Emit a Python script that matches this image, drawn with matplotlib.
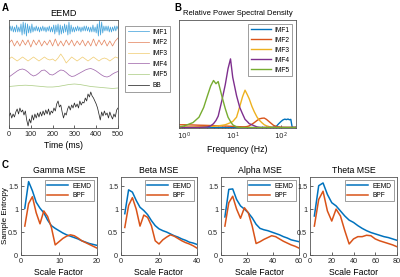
import numpy as np
import matplotlib
matplotlib.use("Agg")
import matplotlib.pyplot as plt

plt.rcParams['font.family'] = ['Liberation Sans', 'DejaVu Sans']

# ---------------- Panel A data (EEMD decomposition, arbitrary units) -------------
imf1 = [0, 3, -2, 3, -3, 2, -3, 4, -3, 2,
        -3, 5, -6, 7, -5, 6, -7, 5, -4, 3,
        -4, 5, -3, 2, -2, 3, -2, 2, -3, 2,
        -2, 3, -2, 2, -3, 2, -2, 3, -3, 2,
        -3, 4, -5, 4, -3, 5, -6, 4, -5, 3,
        -4, 5, -3, 4, -6, 7, -5, 4, -3, 2,
        -3, 2, -2, 3, -2, 2, -3, 2, -2, 3,
        -2, 3, -2, 2, -3, 2, -3, 4, -3, 2,
        -4, 5, -7, 8, -6, 7, -4, 3, -2, 3,
        -2, 3, -3, 2, -3, 2, -2, 3, -2, 3, 0]
imf2 = [0, 3, -3, 2, -3, 3, -2, 3, -4, 3,
        -2, 3, -3, 2, -2, 3, -3, 4, -3, 2,
        -3, 3, -2, 3, -3, 2, -2, 3, -3, 2,
        -3, 4, -3, 3, -2, 3, -3, 2, -3, 2, 5]
imf3 = [0, 2, 0, -2, 0, 2, 0, -2, 0, 2,
        0, -2, 0, 2, 0, -1, 0, -2, 1, 5,
        1, -4, -1, 2, 0, -2, 0, 2, 0, -2,
        0, 2, 0, -2, 0, 1, 0, -2, 0, 2, 1]
imf4 = [-4, -2, 0, 2, 3.5, 4, 3, 1, -1.5, -3,
        -2, 0, 2.5, 3, 1, -1.5, -2, -0.5, 1.5, 3,
        2.5, 0.5, -2, -3.5, -3, -1.5, 0, 1.5, 3, 4,
        4.5, 3.5, 2, 0, -2, -3.5, -4, -3, -1, 0.5, 1.5]
imf5 = [-0.5, 0, 0.5, 0.8, 0.5, 0, -0.5, -1, -1, -0.5,
        0.5, 1.5, 2, 1.5, 0.5, -0.5, -1, -1.5, -2, -2.5, -2]
bb = [12, 15, 10, 14, 11, 16, 19, 14, 20, 16,
      18, 13, 17, 8, 2, 9, 5, 13, 8, 14,
      10, 15, 11, 16, 12, 17, 13, 18, 14, 19,
      13, 17, 15, 20, 17, 24, 27, 21, 23, 16,
      10, 15, 13, 19, 22, 18, 23, 20, 25, 21,
      24, 20, 27, 23, 26, 25, 30, 27, 34, 31,
      36, 32, 30, 27, 24, 20, 14, 8, 16, 12,
      17, 13, 15, 10, 16, 12, 9, 14, 11, 18, 20]
a_series = [imf1, imf2, imf3, imf4, imf5, bb]
a_labels = ['IMF1', 'IMF2', 'IMF3', 'IMF4', 'IMF5', 'BB']
a_offsets = [99, 85, 69, 55, 42, 0]
t_end = 500

# ---------------- Panel B data (relative PSD) ------------------------------------
freqs = [0.8, 1, 1.5, 2, 2.5, 3, 3.5, 4, 4.5, 5, 6, 7, 8, 9, 10, 12, 14, 16, 18, 20,
         22, 25, 28, 32, 36, 40, 45, 50, 60, 70, 80, 90, 100, 110, 120, 130, 140, 150,
         160, 170, 180, 200]
psd_imf1 = [0.004, 0.004, 0.004, 0.004, 0.004, 0.004, 0.004, 0.004, 0.004, 0.004,
            0.004, 0.004, 0.004, 0.004, 0.004, 0.004, 0.004, 0.004, 0.004, 0.004,
            0.004, 0.004, 0.004, 0.004, 0.004, 0.004, 0.004, 0.004, 0.004, 0.006,
            0.015, 0.04, 0.06, 0.075, 0.082, 0.078, 0.083, 0.076, 0.08, 0.012, 0.005, 0.005]
psd_imf2 = [0.03, 0.03, 0.028, 0.026, 0.025, 0.024, 0.023, 0.022, 0.021, 0.02,
            0.019, 0.018, 0.017, 0.016, 0.015, 0.013, 0.012, 0.011, 0.011, 0.014,
            0.02, 0.035, 0.05, 0.07, 0.085, 0.09, 0.092, 0.08, 0.05, 0.025,
            0.015, 0.01, 0.007, 0.006, 0.005, 0.005, 0.005, 0.005, 0.005, 0.005, 0.005, 0.005]
psd_imf3 = [0.01, 0.01, 0.01, 0.012, 0.013, 0.014, 0.015, 0.016, 0.018, 0.02,
            0.025, 0.03, 0.04, 0.05, 0.06, 0.1, 0.2, 0.29, 0.35, 0.31,
            0.27, 0.2, 0.15, 0.1, 0.07, 0.05, 0.03, 0.02, 0.01, 0.006,
            0.005, 0.005, 0.005, 0.005, 0.005, 0.005, 0.005, 0.005, 0.005, 0.005, 0.005, 0.005]
psd_imf4 = [0.005, 0.005, 0.005, 0.006, 0.008, 0.01, 0.02, 0.04, 0.07, 0.11,
            0.26, 0.4, 0.55, 0.64, 0.47, 0.3, 0.19, 0.13, 0.08, 0.06,
            0.04, 0.03, 0.02, 0.01, 0.006, 0.005, 0.005, 0.005, 0.005, 0.005,
            0.005, 0.005, 0.005, 0.005, 0.005, 0.005, 0.005, 0.005, 0.005, 0.005, 0.005, 0.005]
psd_imf5 = [0.01, 0.02, 0.05, 0.1, 0.19, 0.3, 0.39, 0.44, 0.41, 0.43,
            0.29, 0.18, 0.1, 0.06, 0.03, 0.01, 0.005, 0.004, 0.004, 0.004,
            0.004, 0.004, 0.004, 0.004, 0.004, 0.004, 0.004, 0.004, 0.004, 0.004,
            0.004, 0.004, 0.004, 0.004, 0.004, 0.004, 0.004, 0.004, 0.004, 0.004, 0.004, 0.004]
psd_series = [psd_imf1, psd_imf2, psd_imf3, psd_imf4, psd_imf5]
psd_labels = ['IMF1', 'IMF2', 'IMF3', 'IMF4', 'IMF5']

# ---------------- Panel C data (multiscale entropy) -------------------------------
mse_titles = ['Gamma MSE', 'Beta MSE', 'Alpha MSE', 'Theta MSE']
mse_step = [1, 2, 3, 4]
gamma_eemd = [1.02, 1.6, 1.4, 1.15, 1.02, 0.92, 0.76, 0.64, 0.58, 0.53,
              0.48, 0.44, 0.41, 0.38, 0.35, 0.31, 0.28, 0.25, 0.23, 0.21]
gamma_bpf = [0.63, 1.12, 1.27, 0.92, 0.68, 0.96, 0.84, 0.6, 0.22, 0.29,
             0.36, 0.41, 0.44, 0.42, 0.37, 0.31, 0.27, 0.23, 0.19, 0.15]
beta_eemd = [0.9, 1.42, 1.37, 1.19, 1.04, 0.97, 0.88, 0.75, 0.64, 0.57,
             0.53, 0.5, 0.46, 0.42, 0.39, 0.35, 0.32, 0.28, 0.26, 0.23]
beta_bpf = [0.6, 1.08, 1.25, 1.0, 0.63, 0.87, 0.82, 0.64, 0.31, 0.24,
            0.33, 0.39, 0.44, 0.41, 0.36, 0.31, 0.27, 0.24, 0.2, 0.15]
alpha_eemd = [0.83, 1.43, 1.44, 1.21, 1.07, 1.0, 0.92, 0.81, 0.67, 0.58,
              0.55, 0.53, 0.5, 0.47, 0.44, 0.4, 0.37, 0.33, 0.31, 0.29]
alpha_bpf = [0.63, 1.14, 1.28, 1.0, 0.8, 1.03, 0.92, 0.63, 0.25, 0.29,
             0.34, 0.38, 0.42, 0.4, 0.35, 0.3, 0.26, 0.22, 0.19, 0.15]
theta_eemd = [0.85, 1.51, 1.57, 1.32, 1.14, 1.07, 0.96, 0.85, 0.76, 0.71,
              0.64, 0.58, 0.53, 0.49, 0.46, 0.43, 0.4, 0.38, 0.35, 0.32]
theta_bpf = [0.63, 1.21, 1.39, 0.96, 0.74, 1.0, 0.85, 0.53, 0.24, 0.35,
             0.4, 0.4, 0.43, 0.42, 0.35, 0.31, 0.28, 0.25, 0.22, 0.18]
mse_eemd = [gamma_eemd, beta_eemd, alpha_eemd, theta_eemd]
mse_bpf = [gamma_bpf, beta_bpf, alpha_bpf, theta_bpf]
mse_xticks = [[0, 10, 20], [0, 20, 40], [0, 20, 40, 60], [0, 20, 40, 60, 80]]
mse_xlim = [20, 40, 60, 80]
mse_yticks = [0, 0.5, 1, 1.5]
mse_yticklabels = ['0', '0.5', '1', '1.5']

# ---------------- styles --------------------------------------------------------
W, H = 400, 277
fig = plt.figure(figsize=(W / 100, H / 100), dpi=100)

def fx(px):
    return px / W

def fy(py):
    return 1 - py / H

a_colors = ['#4aa6dc', '#e58a66', '#f1cf7a', '#a36cae', '#b0cf8a', '#2a2a2a']
m_colors = ['#0072BD', '#D95319', '#EDB120', '#7E2F8E', '#77AC30']
edge = '#555555'
tick_fs = 5.2
lab_fs = 6.3

def style_axes(ax):
    for s in ax.spines.values():
        s.set_color(edge)
        s.set_linewidth(0.6)
    ax.tick_params(direction='in', length=2, width=0.5, colors='#262626',
                   labelsize=tick_fs, pad=2)

# ---- Panel A
axA = fig.add_axes([fx(9), fy(128), fx(109), 108 / H])
style_axes(axA)
handles = []
for ser, lab, off, col in zip(a_series, a_labels, a_offsets, a_colors):
    t = np.linspace(0, t_end, len(ser))
    h, = axA.plot(t, np.asarray(ser) + off, color=col, lw=0.55)
    handles.append(h)
axA.set_xlim(0, t_end)
axA.set_ylim(0, 108)
axA.set_yticks([])
axA.set_xticks([0, 100, 200, 300, 400, 500])
axA.set_xlabel('Time (ms)', fontsize=lab_fs, labelpad=2)
axA.set_title('EEMD', fontsize=lab_fs + 0.3, pad=3)
legA = fig.legend(handles, a_labels, loc='upper left',
                  bbox_to_anchor=(fx(125), fy(26)), fontsize=4.8, frameon=True,
                  fancybox=False, edgecolor=edge, handlelength=3.2,
                  borderpad=0.4, labelspacing=0.55, handletextpad=0.5,
                  borderaxespad=0)
legA.get_frame().set_linewidth(0.5)

# ---- Panel B
axB = fig.add_axes([fx(179), fy(128), fx(117), 108 / H])
style_axes(axB)
hb = []
for ser, lab, col in zip(psd_series, psd_labels, m_colors):
    h, = axB.plot(freqs, ser, color=col, lw=1.0, label=lab)
    hb.append(h)
axB.set_xscale('log')
axB.set_xlim(0.77, 205)
axB.set_ylim(0, 1)
axB.set_yticks([])
axB.set_xticks([1, 10, 100])
axB.set_xticklabels([r'$10^0$', r'$10^1$', r'$10^2$'])
axB.tick_params(which='minor', direction='in', length=1.2, width=0.4, colors='#262626')
axB.set_xlabel('Frequency (Hz)', fontsize=lab_fs, labelpad=2)
axB.set_title('Relative Power Spectral Density', fontsize=5.5, pad=3.5)
legB = axB.legend(loc='upper right', fontsize=4.8, frameon=True, fancybox=False,
                  edgecolor=edge, handlelength=3.0, borderpad=0.4, labelspacing=0.45,
                  handletextpad=0.5, borderaxespad=0.6)
legB.get_frame().set_linewidth(0.5)

# ---- Panel C
c_left = [21, 121, 221, 310]
c_right = [97, 197, 299, 397]
for i in range(4):
    wpx = c_right[i] - c_left[i]
    ax = fig.add_axes([fx(c_left[i]), fy(255), fx(wpx), 78 / H])
    style_axes(ax)
    x = mse_step[i] * np.arange(1, len(mse_eemd[i]) + 1)
    ax.plot(x, mse_eemd[i], color=m_colors[0], lw=1.1, label='EEMD')
    ax.plot(x, mse_bpf[i], color=m_colors[1], lw=1.1, label='BPF')
    ax.set_xlim(0, mse_xlim[i])
    ax.set_ylim(0, 1.7)
    ax.set_xticks(mse_xticks[i])
    ax.set_yticks(mse_yticks)
    ax.set_yticklabels(mse_yticklabels)
    ax.set_title(mse_titles[i], fontsize=lab_fs, pad=3)
    ax.set_xlabel('Scale Factor', fontsize=lab_fs, labelpad=2)
    if i == 0:
        ax.set_ylabel('Sample Entropy', fontsize=5.8)
        ax.yaxis.set_label_coords((9.5 - c_left[i]) / wpx, 0.5)
    lg = ax.legend(loc='upper right', fontsize=4.8, frameon=True, fancybox=False,
                   edgecolor=edge, handlelength=3.2, borderpad=0.35,
                   labelspacing=0.35, handletextpad=0.6, borderaxespad=0.5)
    lg.get_frame().set_linewidth(0.5)

# ---- panel letters
fig.text(fx(2), fy(3), 'A', fontsize=7, fontweight='bold', va='top', ha='left')
fig.text(fx(174), fy(3), 'B', fontsize=7, fontweight='bold', va='top', ha='left')
fig.text(fx(2), fy(160), 'C', fontsize=7, fontweight='bold', va='top', ha='left')

fig.savefig('out.png', dpi=100)
